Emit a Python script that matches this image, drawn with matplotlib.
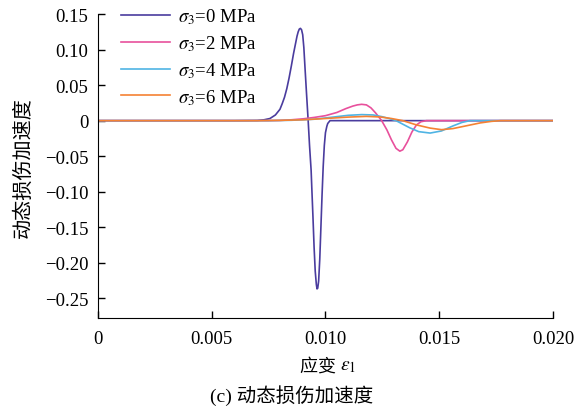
import numpy as np
import matplotlib.pyplot as plt

plt.rcParams['font.family'] = ['Liberation Serif', 'Noto Sans CJK SC']
plt.rcParams['mathtext.fontset'] = 'stix'

# strain values / damage acceleration
x0 = [0, 0.0060, 0.0070, 0.0073, 0.00756, 0.0078, 0.0080, 0.0081, 0.0082, 0.0083,
      0.0084, 0.0085, 0.0086, 0.0087, 0.00875, 0.0088, 0.00885, 0.0089, 0.00895,
      0.0090, 0.00905, 0.0091, 0.00917, 0.00924, 0.0093, 0.00937, 0.0094, 0.00945,
      0.0095, 0.00955, 0.0096, 0.00963, 0.00966, 0.0097, 0.00975, 0.0098, 0.00985,
      0.0099, 0.00995, 0.0100, 0.01006, 0.0101, 0.0102, 0.0200]
y0 = [0, 0, 0.0003, 0.0012, 0.003, 0.008, 0.016, 0.024, 0.033, 0.045,
      0.060, 0.077, 0.095, 0.111, 0.119, 0.125, 0.1290, 0.1300, 0.1280,
      0.121, 0.103, 0.075, 0.037, 0.0, -0.035, -0.070, -0.095, -0.135,
      -0.178, -0.212, -0.231, -0.237, -0.236, -0.226, -0.195, -0.150, -0.105,
      -0.065, -0.035, -0.017, -0.008, -0.004, 0, 0]

x2 = [0, 0.0075, 0.0080, 0.0085, 0.0090, 0.0095, 0.0100, 0.0105, 0.0109, 0.0112,
      0.0114, 0.01159, 0.0118, 0.0120, 0.0122, 0.01247, 0.0127, 0.0129, 0.0131,
      0.01327, 0.0134, 0.0136, 0.0138, 0.0140, 0.0142, 0.01444, 0.0200]
y2 = [0, 0, 0.0003, 0.0012, 0.0025, 0.0045, 0.0070, 0.0115, 0.0170, 0.0205,
      0.0222, 0.0230, 0.0222, 0.0180, 0.0110, 0.0, -0.013, -0.027, -0.039,
      -0.043, -0.041, -0.030, -0.016, -0.006, -0.0015, 0, 0]

x4 = [0, 0.0075, 0.0085, 0.0095, 0.0102, 0.0110, 0.0116, 0.0121, 0.0125, 0.0128,
      0.0131, 0.0134, 0.0137, 0.0141, 0.0146, 0.0151, 0.0156, 0.0160, 0.01635, 0.0200]
y4 = [0, 0, 0.0005, 0.0020, 0.0045, 0.0075, 0.0085, 0.0080, 0.0055, 0.0030,
      0.0, -0.005, -0.010, -0.0155, -0.0175, -0.0145, -0.0075, -0.0025, 0, 0]

x6 = [0, 0.0070, 0.0080, 0.0090, 0.0100, 0.0110, 0.0118, 0.0124, 0.0129, 0.0134,
      0.0140, 0.0146, 0.0151, 0.0156, 0.0162, 0.0168, 0.0173, 0.0177, 0.0200]
y6 = [0, 0, 0.0004, 0.0012, 0.0030, 0.0050, 0.0060, 0.0052, 0.0030, 0.0,
      -0.0060, -0.0105, -0.0127, -0.0112, -0.0072, -0.0032, -0.0010, 0, 0]

labels = [r'$\sigma_3$=0 MPa', r'$\sigma_3$=2 MPa', r'$\sigma_3$=4 MPa', r'$\sigma_3$=6 MPa']
colors = ['#4a3c9e', '#e8509c', '#4fb4e4', '#f58233']

xticks = [0, 0.005, 0.010, 0.015, 0.020]
xticklabels = ['0', '0.005', '0.010', '0.015', '0.020']
yticks = [0.15, 0.10, 0.05, 0, -0.05, -0.10, -0.15, -0.20, -0.25]
yticklabels = ['0.15', '0.10', '0.05', '0', '−0.05', '−0.10', '−0.15', '−0.20', '−0.25']

fig = plt.figure(figsize=(5.83, 4.10), dpi=100)
ax = fig.add_axes([0.168, 0.222, 0.7805, 0.741])

for xs, ys, c, lab in zip([x0, x2, x4, x6], [y0, y2, y4, y6], colors, labels):
    ax.plot(xs, ys, color=c, lw=1.2, label=lab)

ax.set_xlim(0, 0.020)
ax.set_ylim(-0.278, 0.15)
ax.set_xticks(xticks)
ax.set_xticklabels(xticklabels)
ax.set_yticks(yticks)
ax.set_yticklabels(yticklabels)
ax.tick_params(direction='in', length=5, labelsize=13.5, width=1)
ax.tick_params(axis='x', pad=9)
ax.tick_params(axis='y', pad=7)
ax.spines['top'].set_visible(False)
ax.spines['right'].set_visible(False)

# x label: CJK part and math part as two texts so the CJK font is used
ax.text(0.532, -0.158, '应变 ', transform=ax.transAxes, ha='right', va='center', fontsize=13)
ax.text(0.532, -0.158, r'$\varepsilon_1$', transform=ax.transAxes, ha='left', va='center', fontsize=14)
ax.set_ylabel('动态损伤加速度', fontsize=14.5, labelpad=8)
fig.text(0.5, 0.02, '(c) 动态损伤加速度', ha='center', fontsize=14)

ax.legend(loc='upper left', bbox_to_anchor=(0.195, 1.0), bbox_transform=fig.transFigure,
          frameon=False, fontsize=13.5, handlelength=2.6, labelspacing=0.38,
          borderaxespad=0, handletextpad=0.45)

fig.savefig('out.png', dpi=100)
